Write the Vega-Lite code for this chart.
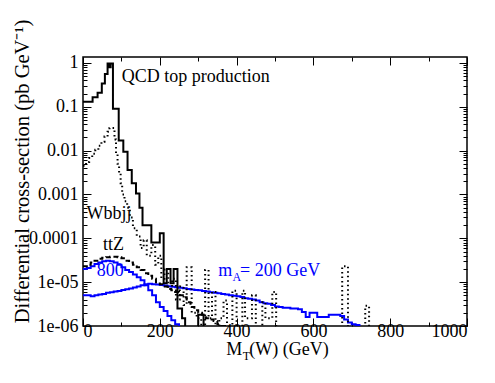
{
  "$schema": "https://vega.github.io/schema/vega-lite/v6.json",
  "autosize": "none",
  "width": 384,
  "height": 269,
  "padding": {"left": 83, "top": 57, "right": 28, "bottom": 57},
  "background": "white",
  "config": {
    "view": {"stroke": "black", "strokeWidth": 1.5},
    "font": "Liberation Serif",
    "text": {"font": "Liberation Serif"},
    "axis": {"grid": false, "domain": false, "tickColor": "black", "tickWidth": 1, "labelFont": "Liberation Serif", "labelColor": "black", "titleFont": "Liberation Serif", "titleColor": "black", "titleFontWeight": "normal"}
  },
  "datasets": {
    "qcd": [
      {"x": 0, "v": 0.13}, {"x": 25, "v": 0.165}, {"x": 38, "v": 0.21}, {"x": 49, "v": 0.34}, {"x": 57, "v": 0.56},
      {"x": 64, "v": 0.98}, {"x": 69, "v": 0.8}, {"x": 72, "v": 0.98}, {"x": 78, "v": 0.09}, {"x": 93, "v": 0.017},
      {"x": 105, "v": 0.0094}, {"x": 116, "v": 0.0036}, {"x": 127, "v": 0.0018}, {"x": 138, "v": 0.00105}, {"x": 147, "v": 0.0005},
      {"x": 155, "v": 0.0002}, {"x": 178, "v": 0.00008}, {"x": 200, "v": 0.00013}, {"x": 210, "v": 0.0000094}, {"x": 218, "v": 0.00002},
      {"x": 228, "v": 0.0000094}, {"x": 236, "v": 0.00002}, {"x": 246, "v": 0.0000025}, {"x": 258, "v": 0.0000015}, {"x": 266, "v": 1e-9},
      {"x": 300, "v": 0.0000018}, {"x": 314, "v": 1e-9}
    ],
    "wbb": [
      {"x": 0, "v": 0.0045}, {"x": 8, "v": 0.0055}, {"x": 16, "v": 0.0068}, {"x": 24, "v": 0.0085}, {"x": 32, "v": 0.0105},
      {"x": 40, "v": 0.013}, {"x": 48, "v": 0.016}, {"x": 56, "v": 0.021}, {"x": 64, "v": 0.027}, {"x": 69, "v": 0.033},
      {"x": 82, "v": 0.018}, {"x": 86, "v": 0.0087}, {"x": 90, "v": 0.005}, {"x": 94, "v": 0.003}, {"x": 98, "v": 0.0018},
      {"x": 102, "v": 0.001}, {"x": 108, "v": 0.0007}, {"x": 115, "v": 0.0005}, {"x": 122, "v": 0.0003}, {"x": 130, "v": 0.00017},
      {"x": 140, "v": 0.00011}, {"x": 150, "v": 0.00006}, {"x": 158, "v": 0.00009}, {"x": 166, "v": 0.00004}, {"x": 178, "v": 0.00007},
      {"x": 188, "v": 0.000025}, {"x": 196, "v": 0.00004}, {"x": 204, "v": 0.000012}, {"x": 212, "v": 0.00002}, {"x": 222, "v": 0.000007},
      {"x": 232, "v": 0.000012}, {"x": 242, "v": 0.000004}, {"x": 252, "v": 0.000008}, {"x": 262, "v": 0.000003}, {"x": 270, "v": 0.000022},
      {"x": 283, "v": 0.000002}, {"x": 296, "v": 0.0000015}, {"x": 308, "v": 1e-9}, {"x": 318, "v": 0.000019}, {"x": 327, "v": 0.0000015},
      {"x": 336, "v": 0.000006}, {"x": 345, "v": 1e-9}, {"x": 355, "v": 0.0000015}, {"x": 366, "v": 0.0000038}, {"x": 375, "v": 1e-9},
      {"x": 389, "v": 0.0000064}, {"x": 400, "v": 1e-9}, {"x": 415, "v": 0.0000064}, {"x": 422, "v": 0.0000015}, {"x": 440, "v": 0.000005},
      {"x": 450, "v": 1e-9}, {"x": 467, "v": 0.0000035}, {"x": 475, "v": 0.0000015}, {"x": 493, "v": 0.000006}, {"x": 503, "v": 1e-9},
      {"x": 675, "v": 0.000023}, {"x": 690, "v": 1e-9}, {"x": 735, "v": 0.0000029}, {"x": 745, "v": 1e-9}
    ],
    "ttz": [
      {"x": 0, "v": 0.000023}, {"x": 10, "v": 0.000025}, {"x": 20, "v": 0.000028}, {"x": 30, "v": 0.000031}, {"x": 40, "v": 0.000034},
      {"x": 50, "v": 0.000036}, {"x": 60, "v": 0.000037}, {"x": 70, "v": 0.000038}, {"x": 80, "v": 0.000038}, {"x": 90, "v": 0.000037},
      {"x": 100, "v": 0.000035}, {"x": 110, "v": 0.000031}, {"x": 120, "v": 0.000028}, {"x": 130, "v": 0.000025}, {"x": 140, "v": 0.000022},
      {"x": 150, "v": 0.000019}, {"x": 160, "v": 0.000016}, {"x": 170, "v": 0.000014}, {"x": 180, "v": 0.000012}, {"x": 190, "v": 0.00001},
      {"x": 200, "v": 0.000009}, {"x": 210, "v": 0.000008}, {"x": 220, "v": 0.000007}, {"x": 230, "v": 0.0000065}, {"x": 240, "v": 0.000006},
      {"x": 250, "v": 0.000005}, {"x": 260, "v": 0.0000045}, {"x": 270, "v": 0.0000035}, {"x": 280, "v": 0.0000027}, {"x": 290, "v": 0.0000023},
      {"x": 300, "v": 0.000002}, {"x": 310, "v": 0.0000018}, {"x": 320, "v": 0.0000015}, {"x": 330, "v": 0.0000014}, {"x": 340, "v": 0.0000013},
      {"x": 350, "v": 0.0000011}, {"x": 360, "v": 0.000001}, {"x": 370, "v": 1e-9}
    ],
    "a200": [
      {"x": 0, "v": 0.00002}, {"x": 10, "v": 0.000021}, {"x": 20, "v": 0.000023}, {"x": 30, "v": 0.000026}, {"x": 40, "v": 0.000028},
      {"x": 50, "v": 0.00003}, {"x": 60, "v": 0.000031}, {"x": 70, "v": 0.00003}, {"x": 80, "v": 0.000028}, {"x": 90, "v": 0.000025},
      {"x": 100, "v": 0.000022}, {"x": 110, "v": 0.000019}, {"x": 120, "v": 0.000017}, {"x": 130, "v": 0.000015}, {"x": 140, "v": 0.000013},
      {"x": 150, "v": 0.000011}, {"x": 160, "v": 0.0000085}, {"x": 170, "v": 0.0000065}, {"x": 180, "v": 0.000005}, {"x": 190, "v": 0.0000035},
      {"x": 200, "v": 0.0000027}, {"x": 210, "v": 0.0000022}, {"x": 220, "v": 0.0000017}, {"x": 230, "v": 0.00000135}, {"x": 240, "v": 0.0000011},
      {"x": 250, "v": 0.0000009}, {"x": 260, "v": 1e-9}
    ],
    "a800": [
      {"x": 0, "v": 0.000005}, {"x": 10, "v": 0.000005}, {"x": 20, "v": 0.0000048}, {"x": 30, "v": 0.000005}, {"x": 40, "v": 0.0000052},
      {"x": 50, "v": 0.0000054}, {"x": 60, "v": 0.0000057}, {"x": 70, "v": 0.0000059}, {"x": 80, "v": 0.0000061}, {"x": 90, "v": 0.0000063},
      {"x": 100, "v": 0.0000066}, {"x": 110, "v": 0.0000069}, {"x": 120, "v": 0.0000072}, {"x": 130, "v": 0.0000076}, {"x": 140, "v": 0.000008},
      {"x": 150, "v": 0.0000085}, {"x": 160, "v": 0.000009}, {"x": 170, "v": 0.0000092}, {"x": 180, "v": 0.000009}, {"x": 190, "v": 0.0000088},
      {"x": 200, "v": 0.0000086}, {"x": 210, "v": 0.0000084}, {"x": 220, "v": 0.0000081}, {"x": 230, "v": 0.0000079}, {"x": 240, "v": 0.0000077},
      {"x": 250, "v": 0.0000075}, {"x": 260, "v": 0.0000073}, {"x": 270, "v": 0.000007}, {"x": 280, "v": 0.0000068}, {"x": 290, "v": 0.0000066},
      {"x": 300, "v": 0.0000065}, {"x": 310, "v": 0.0000063}, {"x": 320, "v": 0.0000061}, {"x": 330, "v": 0.0000059}, {"x": 340, "v": 0.0000057},
      {"x": 350, "v": 0.0000056}, {"x": 360, "v": 0.0000054}, {"x": 370, "v": 0.0000052}, {"x": 380, "v": 0.000005}, {"x": 390, "v": 0.0000049},
      {"x": 400, "v": 0.0000048}, {"x": 410, "v": 0.0000046}, {"x": 420, "v": 0.0000043}, {"x": 430, "v": 0.0000042}, {"x": 440, "v": 0.000004},
      {"x": 450, "v": 0.0000038}, {"x": 460, "v": 0.0000035}, {"x": 470, "v": 0.0000033}, {"x": 480, "v": 0.0000032}, {"x": 490, "v": 0.000003},
      {"x": 500, "v": 0.0000028}, {"x": 510, "v": 0.0000027}, {"x": 520, "v": 0.0000026}, {"x": 530, "v": 0.0000026}, {"x": 540, "v": 0.0000025},
      {"x": 550, "v": 0.0000025}, {"x": 560, "v": 0.0000024}, {"x": 570, "v": 0.0000021}, {"x": 580, "v": 0.0000016}, {"x": 590, "v": 0.000002},
      {"x": 600, "v": 0.000002}, {"x": 610, "v": 0.0000016}, {"x": 620, "v": 0.0000016}, {"x": 630, "v": 0.0000016}, {"x": 640, "v": 0.0000018},
      {"x": 650, "v": 0.0000018}, {"x": 660, "v": 0.0000018}, {"x": 670, "v": 0.0000017}, {"x": 680, "v": 0.0000014}, {"x": 690, "v": 0.0000012},
      {"x": 700, "v": 0.0000011}, {"x": 710, "v": 0.00000105}, {"x": 720, "v": 1e-9}
    ],
    "blackText": [
      {"x": 101, "v": 0.367, "t": "QCD top production"},
      {"x": 9, "v": 0.00027, "t": "Wbbjj"},
      {"x": 52, "v": 0.000055, "t": "ttZ"},
      {"x": 373, "v": 2.2e-7, "t": "M"},
      {"x": 433, "v": 2.2e-7, "t": "(W) (GeV)"}
    ],
    "blackSub": [
      {"x": 416, "v": 1.68e-7, "t": "T"}
    ],
    "blueText": [
      {"x": 36, "v": 0.000014, "t": "800"},
      {"x": 352, "v": 0.000014, "t": "m"},
      {"x": 409, "v": 0.000014, "t": "= 200 GeV"}
    ],
    "blueSub": [
      {"x": 389, "v": 0.0000106, "t": "A"}
    ]
  },
  "resolve": {"axis": {"x": "independent", "y": "independent"}},
  "layer": [
    {
      "data": {"name": "a800"},
      "mark": {"type": "line", "interpolate": "step-after", "color": "#0000ff", "strokeWidth": 2, "clip": true},
      "encoding": {
        "x": {"field": "x", "type": "quantitative", "scale": {"domain": [0, 1000], "nice": false},
          "axis": {"orient": "bottom", "values": [0,100,200,300,400,500,600,700,800,900,1000], "labelExpr": "datum.value % 200 == 0 ? format(datum.value, 'd') : ''",
            "tickSize": {"condition": {"test": "datum.value % 200 == 0", "value": -8}, "value": -4}, "labelPadding": 4, "labelFontSize": 18, "labelFont": "Liberation Serif", "labelOverlap": false, "title": null}},
        "y": {"field": "v", "type": "quantitative", "scale": {"type": "log", "domain": [1e-6, 1.37], "nice": false},
          "axis": {"orient": "left", "values": [1e-6,2e-6,3e-6,4e-6,5e-6,6e-6,7e-6,8e-6,9e-6,1e-5,2e-5,3e-5,4e-5,5e-5,6e-5,7e-5,8e-5,9e-5,1e-4,2e-4,3e-4,4e-4,5e-4,6e-4,7e-4,8e-4,9e-4,1e-3,2e-3,3e-3,4e-3,5e-3,6e-3,7e-3,8e-3,9e-3,1e-2,2e-2,3e-2,4e-2,5e-2,6e-2,7e-2,8e-2,9e-2,0.1,0.2,0.3,0.4,0.5,0.6,0.7,0.8,0.9,1],
            "labelExpr": "abs(log(datum.value)/LN10 - round(log(datum.value)/LN10)) < 0.001 ? ['1e-06','1e-05','0.0001','0.001','0.01','0.1','1'][round(log(datum.value)/LN10)+6] : ''",
            "tickSize": {"condition": {"test": "abs(log(datum.value)/LN10 - round(log(datum.value)/LN10)) < 0.001", "value": -8}, "value": -4},
            "labelPadding": 13, "labelFontSize": 18, "labelFont": "Liberation Serif", "labelOverlap": false, "labelBound": false,
            "title": "Differential cross-section (pb GeV⁻¹)", "titleFont": "Liberation Serif", "titleFontSize": 20.5, "titleX": -61, "titleY": 114, "titleAngle": 270, "titleAlign": "center", "titleBaseline": "middle"}}
      }
    },
    {
      "data": {"name": "a200"},
      "mark": {"type": "line", "interpolate": "step-after", "color": "#0000ff", "strokeWidth": 2, "clip": true},
      "encoding": {
        "x": {"field": "x", "type": "quantitative", "scale": {"domain": [0, 1000], "nice": false},
          "axis": {"orient": "top", "values": [0,100,200,300,400,500,600,700,800,900,1000], "labels": false,
            "tickSize": {"condition": {"test": "datum.value % 200 == 0", "value": -8}, "value": -4}, "title": null}},
        "y": {"field": "v", "type": "quantitative", "scale": {"type": "log", "domain": [1e-6, 1.37], "nice": false},
          "axis": {"orient": "right", "values": [1e-6,2e-6,3e-6,4e-6,5e-6,6e-6,7e-6,8e-6,9e-6,1e-5,2e-5,3e-5,4e-5,5e-5,6e-5,7e-5,8e-5,9e-5,1e-4,2e-4,3e-4,4e-4,5e-4,6e-4,7e-4,8e-4,9e-4,1e-3,2e-3,3e-3,4e-3,5e-3,6e-3,7e-3,8e-3,9e-3,1e-2,2e-2,3e-2,4e-2,5e-2,6e-2,7e-2,8e-2,9e-2,0.1,0.2,0.3,0.4,0.5,0.6,0.7,0.8,0.9,1],
            "labels": false,
            "tickSize": {"condition": {"test": "abs(log(datum.value)/LN10 - round(log(datum.value)/LN10)) < 0.001", "value": -8}, "value": -4},
            "title": null}}
      }
    },
    {
      "data": {"name": "ttz"},
      "mark": {"type": "line", "interpolate": "step-after", "color": "black", "strokeWidth": 2, "strokeDash": [5, 3], "clip": true},
      "encoding": {
        "x": {"field": "x", "type": "quantitative", "scale": {"domain": [0, 1000], "nice": false}, "axis": null},
        "y": {"field": "v", "type": "quantitative", "scale": {"type": "log", "domain": [1e-6, 1.37], "nice": false}, "axis": null}
      }
    },
    {
      "data": {"name": "wbb"},
      "mark": {"type": "line", "interpolate": "step-after", "color": "black", "strokeWidth": 2, "strokeDash": [1.5, 3], "clip": true},
      "encoding": {
        "x": {"field": "x", "type": "quantitative", "scale": {"domain": [0, 1000], "nice": false}, "axis": null},
        "y": {"field": "v", "type": "quantitative", "scale": {"type": "log", "domain": [1e-6, 1.37], "nice": false}, "axis": null}
      }
    },
    {
      "data": {"name": "qcd"},
      "mark": {"type": "line", "interpolate": "step-after", "color": "black", "strokeWidth": 2, "clip": true},
      "encoding": {
        "x": {"field": "x", "type": "quantitative", "scale": {"domain": [0, 1000], "nice": false}, "axis": null},
        "y": {"field": "v", "type": "quantitative", "scale": {"type": "log", "domain": [1e-6, 1.37], "nice": false}, "axis": null}
      }
    },
    {
      "data": {"name": "blackText"},
      "mark": {"type": "text", "align": "left", "baseline": "alphabetic", "font": "Liberation Serif", "fontSize": 18, "color": "black"},
      "encoding": {
        "x": {"field": "x", "type": "quantitative", "scale": {"domain": [0, 1000], "nice": false}, "axis": null},
        "y": {"field": "v", "type": "quantitative", "scale": {"type": "log", "domain": [1e-6, 1.37], "nice": false}, "axis": null},
        "text": {"field": "t"}
      }
    },
    {
      "data": {"name": "blackSub"},
      "mark": {"type": "text", "align": "left", "baseline": "alphabetic", "font": "Liberation Serif", "fontSize": 12, "color": "black"},
      "encoding": {
        "x": {"field": "x", "type": "quantitative", "scale": {"domain": [0, 1000], "nice": false}, "axis": null},
        "y": {"field": "v", "type": "quantitative", "scale": {"type": "log", "domain": [1e-6, 1.37], "nice": false}, "axis": null},
        "text": {"field": "t"}
      }
    },
    {
      "data": {"name": "blueText"},
      "mark": {"type": "text", "align": "left", "baseline": "alphabetic", "font": "Liberation Serif", "fontSize": 18, "color": "#0000ff"},
      "encoding": {
        "x": {"field": "x", "type": "quantitative", "scale": {"domain": [0, 1000], "nice": false}, "axis": null},
        "y": {"field": "v", "type": "quantitative", "scale": {"type": "log", "domain": [1e-6, 1.37], "nice": false}, "axis": null},
        "text": {"field": "t"}
      }
    },
    {
      "data": {"name": "blueSub"},
      "mark": {"type": "text", "align": "left", "baseline": "alphabetic", "font": "Liberation Serif", "fontSize": 12, "color": "#0000ff"},
      "encoding": {
        "x": {"field": "x", "type": "quantitative", "scale": {"domain": [0, 1000], "nice": false}, "axis": null},
        "y": {"field": "v", "type": "quantitative", "scale": {"type": "log", "domain": [1e-6, 1.37], "nice": false}, "axis": null},
        "text": {"field": "t"}
      }
    }
  ]
}
